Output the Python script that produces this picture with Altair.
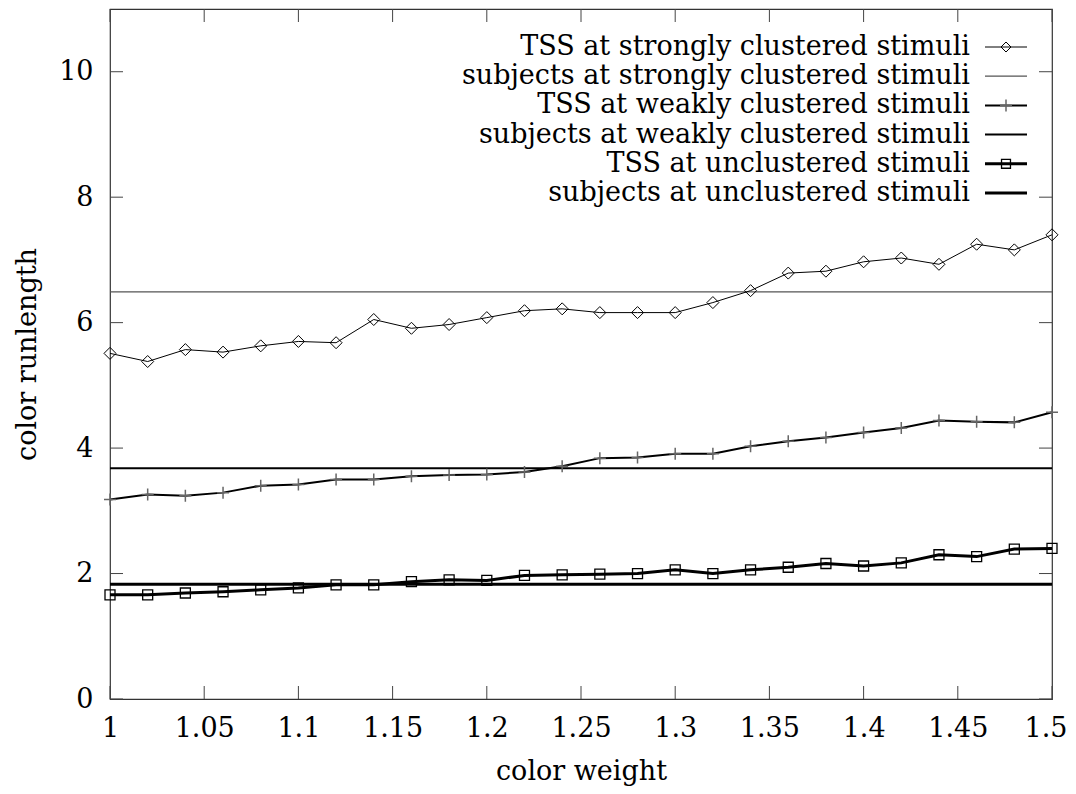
import altair as alt
import pandas as pd

# ---- data ----
color_weight = [1.00, 1.02, 1.04, 1.06, 1.08, 1.10, 1.12, 1.14, 1.16, 1.18, 1.20, 1.22, 1.24,
                1.26, 1.28, 1.30, 1.32, 1.34, 1.36, 1.38, 1.40, 1.42, 1.44, 1.46, 1.48, 1.50]
tss_strong = [5.51, 5.38, 5.57, 5.53, 5.63, 5.70, 5.68, 6.05, 5.91, 5.97, 6.08, 6.19, 6.22,
              6.16, 6.16, 6.16, 6.32, 6.51, 6.79, 6.82, 6.97, 7.03, 6.93, 7.25, 7.16, 7.40]
tss_weak = [3.18, 3.26, 3.24, 3.29, 3.40, 3.42, 3.50, 3.50, 3.55, 3.57, 3.58, 3.62, 3.71,
            3.84, 3.85, 3.91, 3.91, 4.03, 4.11, 4.17, 4.25, 4.32, 4.44, 4.42, 4.41, 4.57]
tss_uncl = [1.66, 1.66, 1.69, 1.71, 1.74, 1.77, 1.82, 1.82, 1.87, 1.90, 1.89, 1.97, 1.98,
            1.99, 2.00, 2.06, 2.00, 2.06, 2.10, 2.16, 2.12, 2.17, 2.30, 2.27, 2.39, 2.40]
subjects_strong = [6.49]
subjects_weak = [3.68]
subjects_uncl = [1.83]

x_ticks = [1, 1.05, 1.1, 1.15, 1.2, 1.25, 1.3, 1.35, 1.4, 1.45, 1.5]
y_ticks = [0, 2, 4, 6, 8, 10]

legend_labels = [
    "TSS at strongly clustered stimuli",
    "subjects at strongly clustered stimuli",
    "TSS at weakly clustered stimuli",
    "subjects at weakly clustered stimuli",
    "TSS at unclustered stimuli",
    "subjects at unclustered stimuli",
]

# ---- layout / style ----
W, H = 942, 690
FONT = "DejaVu Serif"
FS = 27
TICK = 13
PLUS = "M-1,0H1M0,-1V1"

axis_font = dict(labelFont=FONT, labelFontSize=FS, labelColor="#000",
                 titleFont=FONT, titleFontSize=FS, titleColor="#000", titleFontWeight="normal")

xscale = alt.Scale(domain=[1, 1.5], nice=False, zero=False)
yscale = alt.Scale(domain=[0, 11], nice=False)
xenc = alt.X("x:Q", scale=xscale,
             axis=alt.Axis(values=x_ticks, title="color weight", labelExpr="format(datum.value, '~g')",
                           ticks=False, domain=False, grid=False, labelPadding=16, labelFlush=False,
                           labelOverlap=False, labelBound=False,
                           labelAlign={"expr": "datum.value >= 1.5 ? 'right' : 'center'"},
                           labelOffset={"expr": "datum.value >= 1.5 ? 15 : 0"},
                           titleY=80, titleBaseline="alphabetic", **axis_font))
yenc = alt.Y("y:Q", scale=yscale,
             axis=alt.Axis(values=y_ticks, title="color runlength", ticks=False, domain=False,
                           grid=False, labelPadding=17, labelFlush=False, titleX=-75,
                           titleBaseline="alphabetic", **axis_font))

def series_df(vals):
    return pd.DataFrame({"x": color_weight, "y": vals})

layers = []

# subjects horizontal lines
layers.append(alt.Chart(pd.DataFrame({"y": subjects_strong})).mark_rule(color="#555", strokeWidth=1.2).encode(y=yenc))
layers.append(alt.Chart(pd.DataFrame({"y": subjects_weak})).mark_rule(color="#000", strokeWidth=2).encode(y=yenc))
layers.append(alt.Chart(pd.DataFrame({"y": subjects_uncl})).mark_rule(color="#000", strokeWidth=3).encode(y=yenc))

# TSS lines
layers.append(alt.Chart(series_df(tss_strong)).mark_line(color="#000", strokeWidth=1).encode(x=xenc, y=yenc))
layers.append(alt.Chart(series_df(tss_strong)).mark_point(shape="diamond", size=144, filled=False,
                                                          color="#000", strokeWidth=1, opacity=1).encode(x=xenc, y=yenc))
layers.append(alt.Chart(series_df(tss_weak)).mark_line(color="#000", strokeWidth=2).encode(x=xenc, y=yenc))
layers.append(alt.Chart(series_df(tss_weak)).mark_point(shape=PLUS, size=144, filled=False,
                                                        color="#666", strokeWidth=1.5, opacity=1).encode(x=xenc, y=yenc))
layers.append(alt.Chart(series_df(tss_uncl)).mark_line(color="#000", strokeWidth=3).encode(x=xenc, y=yenc))
layers.append(alt.Chart(series_df(tss_uncl)).mark_point(shape="square", size=100, filled=False,
                                                        color="#000", strokeWidth=1.3, opacity=1).encode(x=xenc, y=yenc))

# inward tick marks (bottom, top, left, right)
xt = pd.DataFrame({"x": x_ticks})
yt = pd.DataFrame({"y": y_ticks})
tick_style = dict(color="#444", strokeWidth=1)
layers.append(alt.Chart(xt).mark_rule(**tick_style).encode(x=xenc, y=alt.value(H), y2=alt.value(H - TICK)))
layers.append(alt.Chart(xt).mark_rule(**tick_style).encode(x=xenc, y=alt.value(0), y2=alt.value(TICK)))
layers.append(alt.Chart(yt).mark_rule(**tick_style).encode(y=yenc, x=alt.value(0), x2=alt.value(TICK)))
layers.append(alt.Chart(yt).mark_rule(**tick_style).encode(y=yenc, x=alt.value(W), x2=alt.value(W - TICK)))

# custom legend (top right, text right-aligned, sample to the right)
row0, dy = 38, 29.2
tx, sx1, sx2 = 860, 875, 917
mx = (sx1 + sx2) / 2
line_styles = [("#000", 1), ("#555", 1.2), ("#000", 2), ("#000", 2), ("#000", 3), ("#000", 3)]
markers = {0: dict(shape="diamond", size=100, color="#000", strokeWidth=1),
           2: dict(shape=PLUS, size=144, color="#666", strokeWidth=1.5),
           4: dict(shape="square", size=80, color="#000", strokeWidth=1.3)}
for i, lab in enumerate(legend_labels):
    yy = row0 + dy * i
    d = pd.DataFrame({"label": [lab]})
    layers.append(alt.Chart(d).mark_text(align="right", baseline="middle", font=FONT, fontSize=FS,
                                         color="#000").encode(text="label:N", x=alt.value(tx), y=alt.value(yy)))
    c, w = line_styles[i]
    layers.append(alt.Chart(d).mark_rule(color=c, strokeWidth=w).encode(
        x=alt.value(sx1), x2=alt.value(sx2), y=alt.value(yy)))
    if i in markers:
        m = markers[i]
        layers.append(alt.Chart(d).mark_point(shape=m["shape"], size=m["size"], filled=False, color=m["color"],
                                              strokeWidth=m["strokeWidth"], opacity=1).encode(
            x=alt.value(mx), y=alt.value(yy)))

chart = alt.layer(*layers).properties(
    width=W, height=H,
    autosize=alt.AutoSizeParams(type="none"),
    padding={"left": 102, "top": 1, "right": 16, "bottom": 87},
    background="white",
).configure_view(stroke="#333", strokeWidth=1.2).configure_axis(**axis_font)

chart.save("out.html", embed_options={"renderer": "svg", "actions": False})
